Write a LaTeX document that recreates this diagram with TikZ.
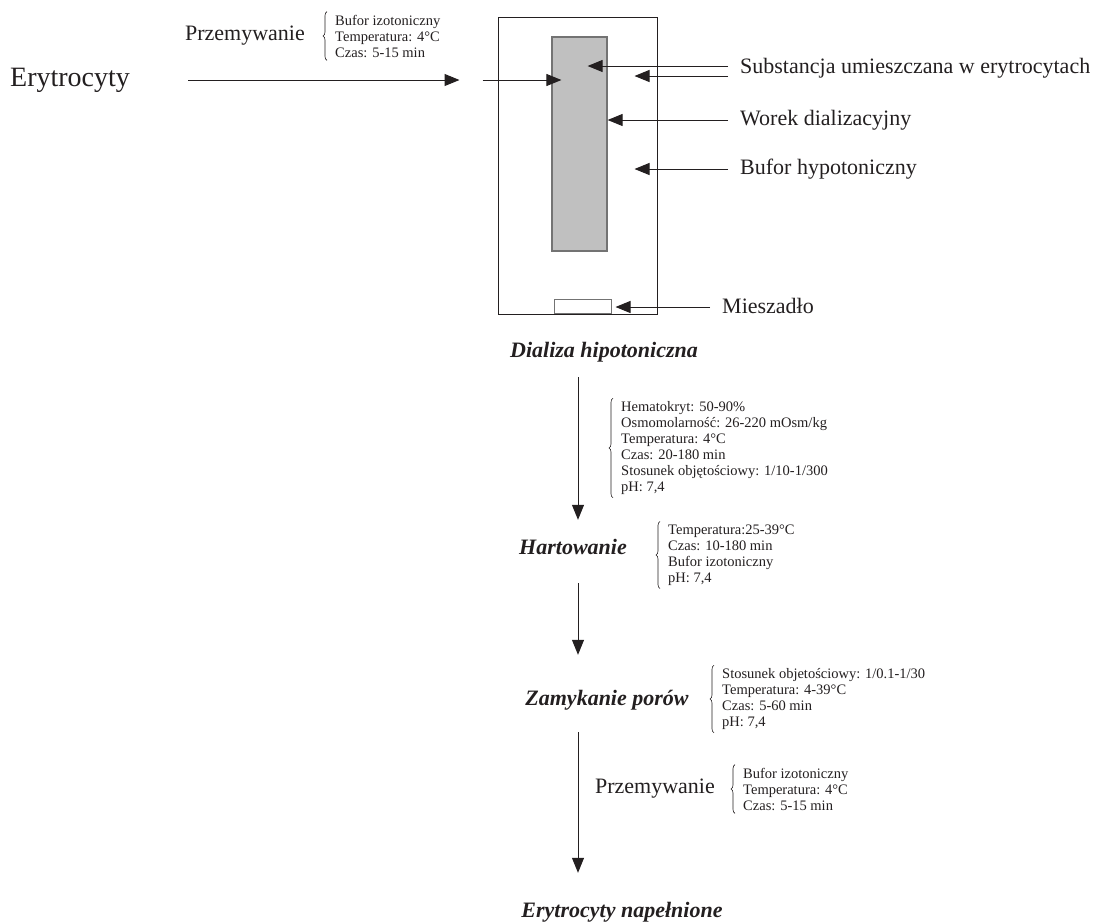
\documentclass[tikz,border=0pt]{standalone}
\usepackage{fontspec}
\setmainfont{Liberation Serif}
\usepackage{xcolor}
\usepackage{tikz}
\usetikzlibrary{arrows.meta,positioning,decorations.pathreplacing}
\definecolor{inkgray}{RGB}{35,31,32}
\definecolor{baggray}{RGB}{192,192,192}
\definecolor{bagedge}{RGB}{115,115,115}

\begin{document}
\begin{tikzpicture}[x=1pt, y=-1pt,
		flow/.style={draw=inkgray, line width=1pt, -{Triangle[length=15pt,width=12pt]}},
		param/.style={inner sep=0pt, align=left, anchor=west, text=inkgray, font=\fontsize{14.5}{16}\selectfont},
		stage/.style={inner sep=0pt, text height=14pt, text depth=4pt, text=inkgray, font=\fontsize{22}{24}\selectfont\bfseries\itshape},
		partlabel/.style={inner sep=0pt, anchor=west, text=inkgray, font=\fontsize{22}{24}\selectfont},
		curly/.style={draw=inkgray, line width=0.6pt, decorate, decoration={brace, amplitude=4pt}}]
			\useasboundingbox (0,0) rectangle (1100,922);
			
			\node[partlabel, font=\fontsize{28}{30}\selectfont] (ery) at (10,80) {Erytrocyty};
			\node[param] (wash1) at (335,36) {Bufor izotoniczny\\Temperatura: 4°C\\Czas: 5-15 min};
			\node[partlabel, left=30pt of wash1] (washlbl1) {Przemywanie};
			
			\node[draw=inkgray, line width=1pt, minimum width=159pt, minimum height=297pt, inner sep=0pt] (beaker) at (577.5,165.5) {};
			\node[draw=bagedge, fill=baggray, line width=1.2pt, minimum width=55pt, minimum height=214pt, inner sep=0pt] (bag) at (579.5,144) {};
			\node[draw=bagedge, fill=white, line width=1pt, minimum width=57pt, minimum height=14pt, inner sep=0pt] (stirrer) at (582.5,306) {};
			
			\node[partlabel] (subst) at (740,68) {Substancja umieszczana w erytrocytach};
			\node[partlabel] (worek) at (740,120) {Worek dializacyjny};
			\node[partlabel] (bufor) at (740,169) {Bufor hypotoniczny};
			\node[partlabel] (mieszadlo) at (722,306) {Mieszadło};
			
			\draw[flow, shorten <=58pt, shorten >=38pt] (ery.east) -- (ery.east -| beaker.west);
			\draw[flow, shorten <=-15pt, shorten >=-10pt] (ery.east -| beaker.west) -- (ery.east -| bag.west);
			\draw[flow, shorten <=12pt, shorten >=-20pt] ([yshift=2pt]subst.west) -- ([yshift=2pt]subst.west -| bag.east);
			\draw[flow, shorten <=12pt, shorten >=-23pt] ([yshift=-8pt]subst.west) -- ([yshift=-8pt]subst.west -| beaker.east);
			\draw[flow, shorten <=12pt] (worek.west) -- (worek.west -| bag.east);
			\draw[flow, shorten <=12pt, shorten >=-23pt] (bufor.west) -- (bufor.west -| beaker.east);
			\draw[flow, shorten <=12pt, shorten >=4pt] ([yshift=-1pt]mieszadlo.west) -- ([yshift=-1pt]mieszadlo.west -| stirrer.east);
			
			\node[stage] (dializa) at (604,352) {Dializa hipotoniczna};
			\node[stage] (hart) at (573,549) {Hartowanie};
			\node[stage] (zamyk) at (607,700) {Zamykanie porów};
			\node[stage] (final) at (622,912) {Erytrocyty napełnione};
			\coordinate (spine) at (578,0);
			
			\node[param] (dialpar) at (621,448) {Hematokryt: 50-90\%\\Osmomolarność: 26-220 mOsm/kg\\Temperatura: 4°C\\Czas: 20-180 min\\Stosunek objętościowy: 1/10-1/300\\pH: 7,4};
			\node[param] (hartpar) at (668,555) {Temperatura:25-39°C\\Czas: 10-180 min\\Bufor izotoniczny\\pH: 7,4};
			\node[param] (zampar) at (722,699) {Stosunek objetościowy: 1/0.1-1/30\\Temperatura: 4-39°C\\Czas: 5-60 min\\pH: 7,4};
			\node[param] (wash2) at (743,789) {Bufor izotoniczny\\Temperatura: 4°C\\Czas: 5-15 min};
			\node[partlabel, left=28pt of wash2] (washlbl2) {Przemywanie};
			
			\draw[flow, shorten <=16pt, shorten >=20pt] (spine |- dializa.south) -- (spine |- hart.north);
			\draw[flow, shorten <=25pt, shorten >=36pt] (spine |- hart.south) -- (spine |- zamyk.north);
			\draw[flow, shorten <=23pt, shorten >=30pt] (spine |- zamyk.south) -- (spine |- final.north);
			
			\foreach \blk in {wash1, dialpar, hartpar, zampar, wash2}
				\draw[curly] ([xshift=-8pt,yshift=-3pt]\blk.south west) -- ([xshift=-8pt,yshift=3pt]\blk.north west);
		\end{tikzpicture}
\end{document}
